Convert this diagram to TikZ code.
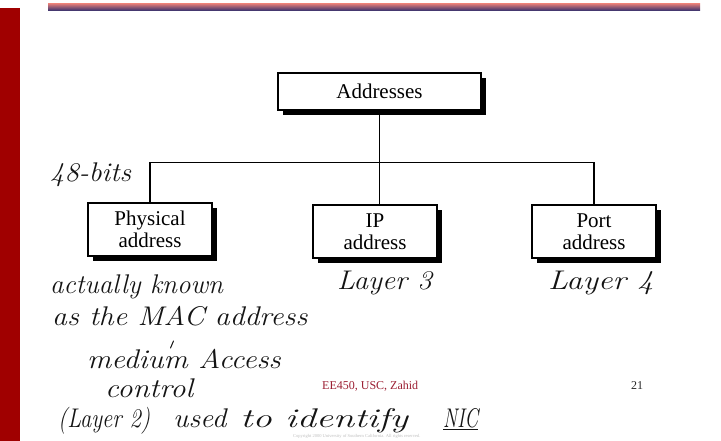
\documentclass[tikz,border=0pt]{standalone}
\usepackage{fontspec}
\newfontfamily\timesfont{Liberation Serif}
\usetikzlibrary{shadows}

\definecolor{slidered}{RGB}{160,0,0}
\definecolor{footred}{RGB}{155,30,50}
\definecolor{rulepink}{RGB}{215,120,120}
\definecolor{ruledark}{RGB}{70,25,55}
\definecolor{rulenavy}{RGB}{45,45,110}
\definecolor{ink}{RGB}{20,20,20}

\newcommand\wide[2]{\scalebox{#1}[1]{#2}}

\tikzset{
  addrbox/.style={draw, line width=1.2pt, fill=white, minimum width=124pt,
    minimum height=53pt, align=center, inner sep=0pt,
    font=\timesfont\fontsize{21}{22}\selectfont,
    drop shadow={shadow xshift=5pt, shadow yshift=-5pt, fill=black, opacity=1}},
  wire/.style={line width=1.1pt},
  scribble/.style={anchor=base west, inner sep=0pt, text=ink,
    font=\fontsize{27}{29}\selectfont\itshape},
  footer/.style={anchor=base west, inner sep=0pt,
    font=\timesfont\fontsize{12}{14}\selectfont}
}

\begin{document}
\begin{tikzpicture}[x=1pt, y=-1pt]
\useasboundingbox (0,0) rectangle (721,441);
% slide frame
\fill[slidered] (0,8) rectangle (20,441);
\shade[top color=rulepink, middle color=ruledark, bottom color=rulenavy] (48,4) rectangle (700,11);

% boxes
\node[addrbox, minimum width=203pt, minimum height=37pt] (addr) at (379.5,91.5) {Addresses};
\node[addrbox] (phys) at (150,229.5) {Physical\\address};
\node[addrbox] (ip) at (375,231.5) {IP\\address};
\node[addrbox] (port) at (594,231.5) {Port\\address};

% tree
\path (addr.south) ++(0,52) coordinate (bus);
\draw[wire] (addr.south) -- (addr.south |- ip.north);
\draw[wire] (phys.north) -- (phys.north |- bus) -- (port.north |- bus) -- (port.north);

% notes
\node[scribble] (bits) at (50,182) {\wide{1.06}{48-bits}};
\node[scribble] (layer3) at (337,290) {\wide{1.08}{Layer 3}};
\node[scribble] (layer4) at (548,290) {\wide{1.2}{Layer 4}};
\node[scribble] (known) at (50,293) {actually known};
\node[scribble] (mac) at (52,325) {\wide{1.1}{as the MAC address}};
\coordinate (tick) at (172,345);
\draw[ink, line width=1pt, line cap=round] (tick) ++(-1.5,3) -- ++(3,-7);
\node[scribble] (medium) at (87,368) {\wide{1.12}{medium Access}};
\node[scribble] (control) at (105,397) {\wide{1.13}{control}};
\node[scribble] (layer2) at (58,427) {\wide{0.84}{(Layer 2)}};
\node[scribble] (used) at (173,427) {\wide{1.08}{used}};
\node[scribble] (identify) at (240,427) {\wide{1.42}{to identify}};
\node[scribble] (nic) at (443,427) {\wide{0.72}{\underline{NIC}}};

% footer
\node[footer, text=footred] (course) at (322,389) {EE450, USC, Zahid};
\node[footer, text=black!85] (page) at (631,389) {21};
\node[anchor=base west, inner sep=0pt, text=black!25,
  font=\timesfont\fontsize{4.5}{5}\selectfont] (copy) at (293,437)
  {Copyright 2000 University of Southern California. All rights reserved.};
\end{tikzpicture}
\end{document}
